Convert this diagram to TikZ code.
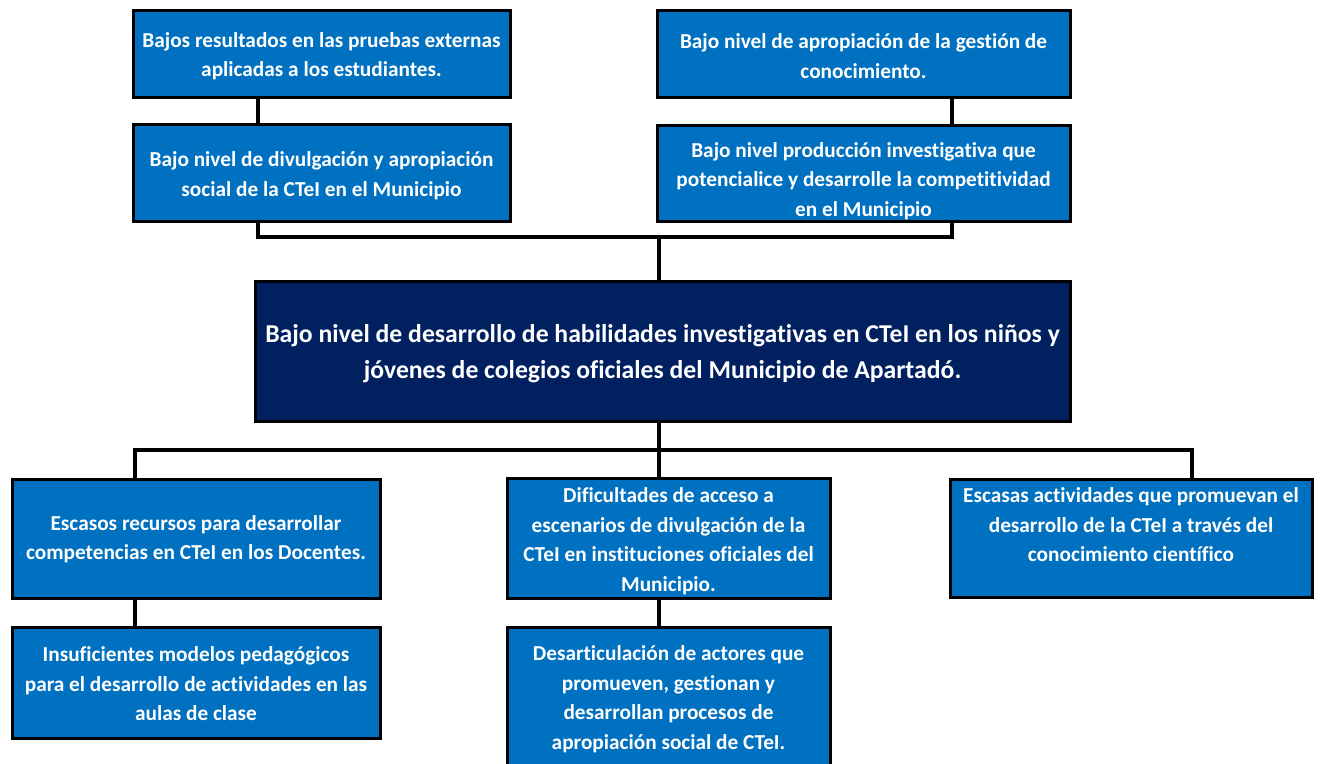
\documentclass[tikz,border=0pt]{standalone}
\usepackage{fontspec}
\setmainfont{Carlito}[Ligatures=NoCommon]
\definecolor{boxblue}{HTML}{0070C0}
\definecolor{navy}{HTML}{002060}
\begin{document}
\begin{tikzpicture}[x=1pt,y=-1pt,
  boxshape/.style={draw=black,line width=3pt,fill=boxblue,rectangle,inner sep=0pt},
  mainshape/.style={boxshape,fill=navy},
  boxtext/.style={text=white,font={\bfseries\fontsize{21.3}{29.5}\selectfont},align=center,inner sep=0pt},
  maintext/.style={text=white,font={\bfseries\fontsize{25.7}{36}\selectfont},align=center,inner sep=0pt},
  link/.style={draw=black,line width=4pt}]
\useasboundingbox[fill=white] (0,0) rectangle (1321,763);
% connector x positions
\coordinate (xa) at (258,0);
\coordinate (xb) at (952,0);
\coordinate (xm) at (659,0);
\coordinate (xl) at (135,0);
\coordinate (xr) at (1192,0);
\coordinate (yt) at (0,237);
\coordinate (yb) at (0,450);
% boxes
\node[boxshape,minimum width=377pt,minimum height=87pt] (b1) at (321.5,53.5) {};
\node[boxshape,minimum width=377pt,minimum height=97pt] (b2) at (321.5,172.5) {};
\node[boxshape,minimum width=413pt,minimum height=87pt] (b3) at (863.5,53.5) {};
\node[boxshape,minimum width=413pt,minimum height=96pt] (b4) at (863.5,173) {};
\node[mainshape,minimum width=815pt,minimum height=140pt] (m) at (662.5,351) {};
\node[boxshape,minimum width=368pt,minimum height=119pt] (l1) at (196,538.5) {};
\node[boxshape,minimum width=368pt,minimum height=111pt] (l2) at (196,682.5) {};
\node[boxshape,minimum width=323pt,minimum height=120pt] (c1) at (668.5,538) {};
\node[boxshape,minimum width=323pt,minimum height=148pt] (c2) at (668.5,701) {};
\node[boxshape,minimum width=362pt,minimum height=118pt] (r1) at (1131,538) {};
% connectors
\draw[link] (xa |- b1.south) -- (xa |- b2.north);
\draw[link] (xb |- b3.south) -- (xb |- b4.north);
\draw[link] (xa |- b2.south) -- (xa |- yt) -- (xb |- yt) -- (xb |- b4.south);
\draw[link] (xm |- yt) -- (xm |- m.north);
\draw[link] (xm |- m.south) -- (xm |- yb);
\draw[link] (xl |- l1.north) -- (xl |- yb) -- (xr |- yb) -- (xr |- r1.north);
\draw[link] (xm |- yb) -- (xm |- c1.north);
\draw[link] (xl |- l1.south) -- (xl |- l2.north);
\draw[link] (xm |- c1.south) -- (xm |- c2.north);
% texts
\node[boxtext] (t1) at (321.5,56) {Bajos resultados en las pruebas externas\\aplicadas a los estudiantes.};
\node[boxtext] (t2) at (321.5,175.5) {Bajo nivel de divulgación y apropiación\\social de la CTeI en el Municipio};
\node[boxtext] (t3) at (863.5,56) {Bajo nivel de apropiación de la gestión de\\conocimiento.};
\node[boxtext] (t4) at (863.5,181) {Bajo nivel producción investigativa que\\potencialice y desarrolle la competitividad\\en el Municipio};
\node[maintext] (tm) at (662.5,354) {Bajo nivel de desarrollo de habilidades investigativas en CTeI en los niños y\\jóvenes de colegios oficiales del Municipio de Apartadó.};
\node[boxtext] (tl1) at (196,539) {Escasos recursos para desarrollar\\competencias en CTeI en los Docentes.};
\node[boxtext] (tl2) at (196,684) {Insuficientes modelos pedagógicos\\para el desarrollo de actividades en las\\aulas de clase};
\node[boxtext] (tc1) at (668.5,541) {Dificultades de acceso a\\escenarios de divulgación de la\\CTeI en instituciones oficiales del\\Municipio.};
\node[boxtext] (tc2) at (668.5,699) {Desarticulación de actores que\\promueven, gestionan y\\desarrollan procesos de\\apropiación social de CTeI.};
\node[boxtext] (tr1) at (1131,525) {Escasas actividades que promuevan el\\desarrollo de la CTeI a través del\\conocimiento científico};
\end{tikzpicture}
\end{document}
